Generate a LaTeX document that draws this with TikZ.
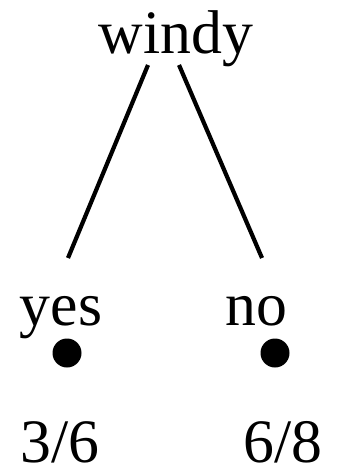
\documentclass[tikz,border=0pt]{standalone}
\usepackage{fontspec}
\setmainfont{Liberation Serif}
\usetikzlibrary{positioning}

\begin{document}
\begin{tikzpicture}[x=1bp,y=-1bp,
  lbl/.style={anchor=base,inner sep=0pt,font=\fontsize{62}{68}\selectfont},
  leaf/.style={circle,fill=black,inner sep=0pt,minimum size=29bp},
  edge/.style={line width=4.2bp,line cap=butt}]
\useasboundingbox (0,0) rectangle (339,474);
\node[lbl] (windy) at (176,54) {windy};
\node[lbl] (yes) at (61,325) {yes};
\node[lbl] (no) at (256,325) {no};
\node[leaf] (dy) at (67,353) {};
\node[leaf] (dn) at (275,353) {};
\node[lbl] (fy) at (60,462) {3/6};
\node[lbl] (fn) at (283,462) {6/8};
\coordinate (wl) at (148,65);
\coordinate (wr) at (179,65);
\coordinate (yt) at (68,258);
\coordinate (nt) at (262,258);
\draw[edge] (wl) -- (yt);
\draw[edge] (wr) -- (nt);
\end{tikzpicture}
\end{document}
